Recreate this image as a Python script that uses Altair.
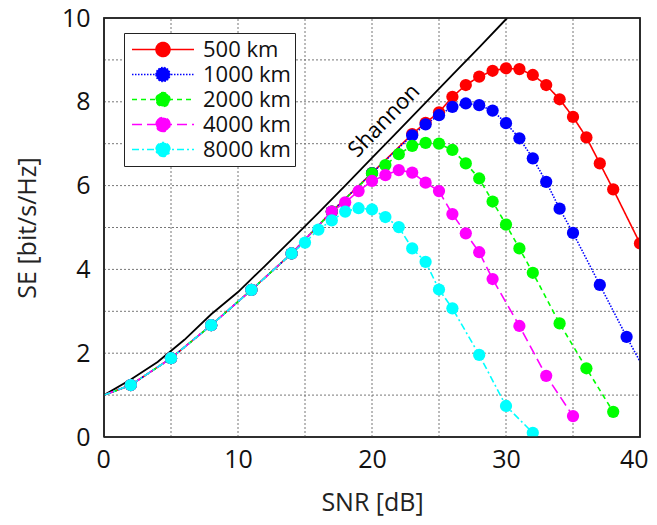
import altair as alt
import pandas as pd

# ---- data ----
series_names = ["500 km", "1000 km", "2000 km", "4000 km", "8000 km"]
series_colors = ["#ff0000", "#0000ff", "#00ff00", "#ff00ff", "#00ffff"]
series_dash = [[1, 0], [1.5, 1.5], [5, 4], [10, 5], [7, 3, 2, 3]]

snr_500 = [0, 2, 5, 8, 11, 14, 17, 20, 23, 24, 25, 26, 27, 28, 29, 30, 31, 32, 33, 34, 35, 36, 37, 38, 40]
se_500 = [1.0, 1.24, 1.88, 2.67, 3.51, 4.38, 5.38, 6.3, 7.23, 7.5, 7.75, 8.12, 8.4, 8.6, 8.74, 8.8, 8.78, 8.64, 8.4, 8.06, 7.64, 7.15, 6.53, 5.91, 4.62]
mk_500 = [0] + [1] * 24

snr_1000 = [0, 2, 5, 8, 11, 14, 17, 20, 23, 24, 25, 26, 27, 28, 29, 30, 31, 32, 33, 34, 35, 37, 39, 40]
se_1000 = [1.0, 1.24, 1.88, 2.67, 3.51, 4.38, 5.38, 6.3, 7.2, 7.46, 7.68, 7.88, 7.96, 7.92, 7.79, 7.49, 7.13, 6.65, 6.09, 5.45, 4.87, 3.63, 2.39, 1.8]
mk_1000 = [0] + [1] * 22 + [0]

snr_2000 = [0, 2, 5, 8, 11, 14, 17, 20, 21, 22, 23, 24, 25, 26, 27, 28, 29, 30, 31, 32, 34, 36, 38]
se_2000 = [1.0, 1.24, 1.88, 2.67, 3.51, 4.38, 5.38, 6.29, 6.49, 6.75, 6.95, 7.02, 7.0, 6.85, 6.53, 6.17, 5.62, 5.07, 4.5, 3.92, 2.71, 1.64, 0.6]
mk_2000 = [0] + [1] * 22

snr_4000 = [0, 2, 5, 8, 11, 14, 17, 18, 19, 20, 21, 22, 23, 24, 25, 26, 27, 28, 29, 31, 33, 35]
se_4000 = [1.0, 1.24, 1.88, 2.67, 3.51, 4.38, 5.38, 5.6, 5.87, 6.11, 6.25, 6.37, 6.31, 6.07, 5.87, 5.32, 4.86, 4.41, 3.77, 2.65, 1.46, 0.5]
mk_4000 = [0] + [1] * 21

snr_8000 = [0, 2, 5, 8, 11, 14, 15, 16, 17, 18, 19, 20, 21, 22, 23, 24, 25, 26, 28, 30, 32]
se_8000 = [1.0, 1.24, 1.88, 2.67, 3.51, 4.38, 4.64, 4.95, 5.17, 5.38, 5.46, 5.43, 5.25, 5.01, 4.5, 4.18, 3.52, 3.07, 1.96, 0.74, 0.1]
mk_8000 = [0] + [1] * 20

shannon_snr = [0, 2, 4, 6, 8, 10, 12, 14, 16, 18, 20, 22, 24, 26, 28, 30, 30.1]
shannon_se = [1.0, 1.37, 1.79, 2.32, 2.93, 3.46, 4.08, 4.71, 5.35, 6.0, 6.66, 7.32, 7.98, 8.64, 9.3, 9.97, 10.0]

label_text = ["Shannon"]
label_snr = [20.9]
label_se = [7.55]

x_ticks = [0, 5, 10, 15, 20, 25, 30, 35, 40]
y_ticks = [0, 1, 2, 3, 4, 5, 6, 7, 8, 9, 10]
x_grid = [5, 10, 15, 20, 25, 30, 35]
y_grid = [1, 2, 3, 4, 5, 6, 7, 8, 9]
x_min, x_max = 0, 40
y_min, y_max = 0, 10

# ---- tables ----
rows = []
for name, xs, ys, ms in zip(
    series_names,
    [snr_500, snr_1000, snr_2000, snr_4000, snr_8000],
    [se_500, se_1000, se_2000, se_4000, se_8000],
    [mk_500, mk_1000, mk_2000, mk_4000, mk_8000],
):
    for x, y, m in zip(xs, ys, ms):
        rows.append({"snr": x, "se": y, "series": name, "marker": m})
df = pd.DataFrame(rows)
df_shannon = pd.DataFrame({"snr": shannon_snr, "se": shannon_se})
df_label = pd.DataFrame({"snr": label_snr, "se": label_se, "text": label_text})

grid_rows = []
for g in x_grid:
    grid_rows.append({"snr": g, "se": y_min, "gid": f"x{g}"})
    grid_rows.append({"snr": g, "se": y_max, "gid": f"x{g}"})
for g in y_grid:
    grid_rows.append({"snr": x_min, "se": g, "gid": f"y{g}"})
    grid_rows.append({"snr": x_max, "se": g, "gid": f"y{g}"})
df_grid = pd.DataFrame(grid_rows)

df_frame = pd.DataFrame({
    "snr": [x_min, x_max, x_max, x_min, x_min],
    "se": [y_min, y_min, y_max, y_max, y_min],
    "k": [0, 1, 2, 3, 4],
})

FONT = "Open Sans"

x_scale = alt.Scale(domain=[x_min, x_max], nice=False)
y_scale = alt.Scale(domain=[y_min, y_max], nice=False)

x_enc = alt.X(
    "snr:Q",
    scale=x_scale,
    axis=alt.Axis(
        values=x_ticks,
        labelExpr="datum.value % 10 == 0 ? datum.label : ''",
        title="SNR [dB]",
        labelFlush=True,
        labelFlushOffset=8,
    ),
)
y_enc = alt.Y(
    "se:Q",
    scale=y_scale,
    axis=alt.Axis(
        values=y_ticks,
        labelExpr="datum.value % 2 == 0 ? datum.label : ''",
        title="SE [bit/s/Hz]",
    ),
)

legend_path = (
    "M-1,0L1,0"
    "M-0.2258,0A0.2258,0.2258,0,1,1,0.2258,0A0.2258,0.2258,0,1,1,-0.2258,0Z"
)
legend = alt.Legend(
    orient="none",
    legendX=20,
    legendY=15,
    symbolType=legend_path,
    symbolSize=3844,
    symbolStrokeWidth=1.5,
    clipHeight=25,
    rowPadding=0,
    padding=4,
    symbolOffset=3,
    labelOffset=8,
    labelFontSize=22,
    labelFont=FONT,
    labelColor="#111111",
    strokeColor="#222222",
    fillColor="white",
)

color_enc = alt.Color(
    "series:N",
    scale=alt.Scale(domain=series_names, range=series_colors),
    sort=series_names,
    title=None,
    legend=legend,
)
dash_enc = alt.StrokeDash(
    "series:N",
    scale=alt.Scale(domain=series_names, range=series_dash),
    sort=series_names,
    title=None,
    legend=legend,
)

grid = alt.Chart(df_grid).mark_line(color="#777777", strokeWidth=1, strokeDash=[2, 2]).encode(
    x=alt.X("snr:Q", scale=x_scale), y=alt.Y("se:Q", scale=y_scale), detail="gid:N"
)
frame = alt.Chart(df_frame).mark_line(color="#222222", strokeWidth=1.6).encode(
    x=alt.X("snr:Q", scale=x_scale), y=alt.Y("se:Q", scale=y_scale), order="k:Q"
)

shannon = alt.Chart(df_shannon).mark_line(color="black", strokeWidth=1.8, clip=True).encode(
    x=x_enc, y=y_enc
)

lines = alt.Chart(df).mark_line(strokeWidth=1.6, clip=True).encode(
    x=x_enc, y=y_enc, color=color_enc, strokeDash=dash_enc,
    detail="series:N", order="snr:Q",
)

points = (
    alt.Chart(df)
    .transform_filter("datum.marker == 1")
    .mark_point(filled=True, size=150, opacity=1, clip=True)
    .encode(x=x_enc, y=y_enc, color=color_enc)
)

label = alt.Chart(df_label).mark_text(
    angle=314, fontSize=22, font=FONT, color="black", align="center", baseline="middle"
).encode(x=x_enc, y=y_enc, text="text:N")

chart = (
    alt.layer(grid, shannon, lines, points, frame, label)
    .properties(
        width=536,
        height=419,
        padding={"left": 96, "top": 10, "right": 9, "bottom": 80},
        autosize=alt.AutoSizeParams(type="none"),
    )
    .configure_view(stroke="#222222", strokeWidth=1.5)
    .configure_axis(
        grid=False,
        domain=False,
        ticks=False,
        labelFont=FONT,
        labelFontSize=25,
        labelColor="#111111",
        titleFont=FONT,
        titleFontSize=25,
        titleFontWeight="normal",
        titleColor="#222222",
    )
    .configure_axisX(labelPadding=10, titlePadding=18)
    .configure_axisY(labelPadding=14, titlePadding=21)
)

chart.save("out.html", embed_options={"renderer": "svg", "actions": False})
